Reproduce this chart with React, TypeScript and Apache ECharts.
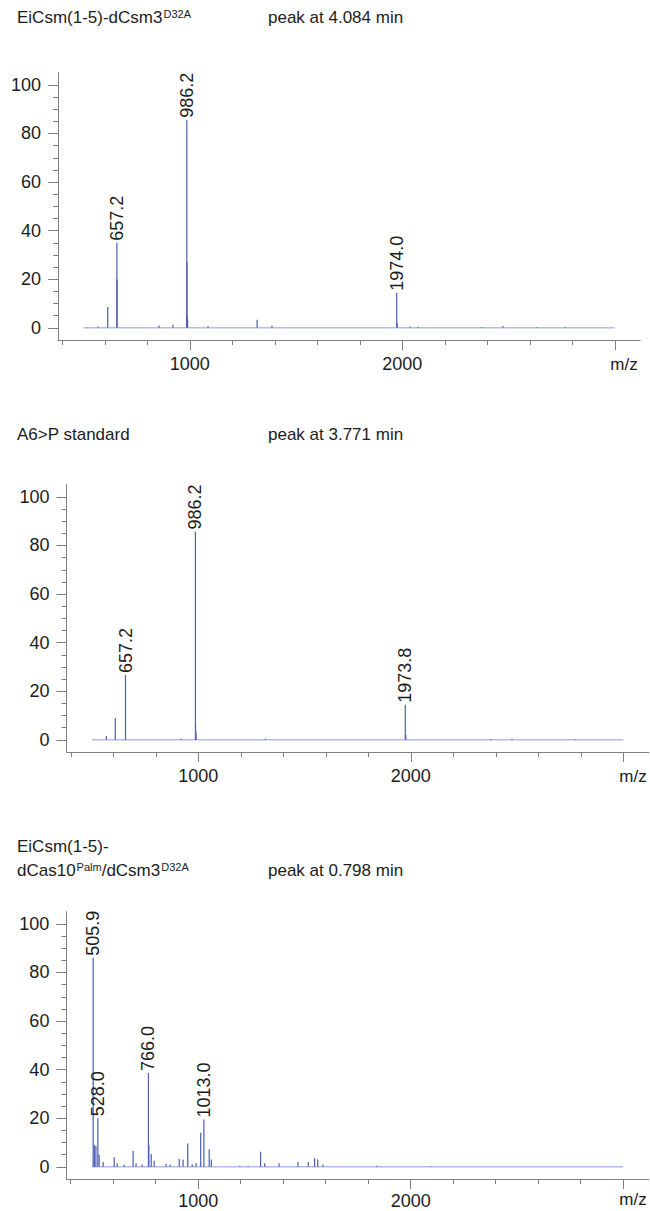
import React, { useEffect, useRef } from "react";
import * as echarts from "echarts";

// ---------- data ----------
const xMin = 380;
const xMax = 3120;
const yMin = -5;
const yMax = 105;

const xTickMajor = [1000, 2000, 3000];
const xTickMinor = [400, 600, 800, 1200, 1400, 1600, 1800, 2200, 2400, 2600, 2800];
const xTickLabels = [1000, 2000];
const yTickMajor = [0, 20, 40, 60, 80, 100];
const yTickMinor = [5, 10, 15, 25, 30, 35, 45, 50, 55, 65, 70, 75, 85, 90, 95];

const baselineRange = [500, 3000];

// panel 1: EiCsm(1-5)-dCsm3 D32A
const peaks1: [number, number][] = [
  [568, 0.6], [614, 8.6], [657.7, 20], [855, 1], [921, 1.3], [986.7, 27], [988, 5], [990, 3],
  [1086, 0.8], [1317, 3.3], [1387, 1], [1976, 2], [2036, 0.6], [2074, 0.5],
  [2375, 0.3], [2474, 0.8], [2634, 0.3], [2766, 0.3],
];
const labeled1: [number, number, string][] = [
  [657.2, 35, "657.2"], [986.2, 85.6, "986.2"], [1974.0, 14.4, "1974.0"],
];

// panel 2: A6>P standard
const peaks2: [number, number][] = [
  [567, 1.6], [609, 9], [919, 0.5], [987, 6], [989, 3], [1316, 0.5], [1976, 2],
  [2376, 0.3], [2476, 0.5], [2771, 0.3],
];
const labeled2: [number, number, string][] = [
  [657.2, 26.7, "657.2"], [986.2, 85.7, "986.2"], [1973.8, 14.4, "1973.8"],
];

// panel 3: EiCsm(1-5)-dCas10 Palm/dCsm3 D32A
const peaks3: [number, number][] = [
  [512, 9], [519, 8.5], [534, 5], [553, 2], [605, 4], [619, 1.5], [652, 1], [694, 6.5],
  [708, 1.5], [736, 1], [768, 9], [779, 5.3], [793, 2.5], [849, 1.2], [868, 1], [911, 3.2],
  [929, 3], [951, 9.6], [972, 1], [990, 1.5], [1012, 14], [1052, 7.2], [1062, 3], [1196, 0.5],
  [1235, 0.5], [1294, 6.2], [1313, 1.5], [1381, 1.5], [1470, 2], [1518, 2], [1548, 3.5],
  [1563, 3], [1587, 1], [1840, 0.5], [2094, 0.3],
];
const labeled3: [number, number, string][] = [
  [506, 86, "505.9"], [528, 20, "528.0"], [766, 38.6, "766.0"], [1027, 19.5, "1013.0"],
];

const titles = [
  { name: "EiCsm(1-5)-dCsm3", sup: "D32A", peak: "peak at 4.084 min" },
  { name: "A6>P standard", sup: "", peak: "peak at 3.771 min" },
  { name: "EiCsm(1-5)-", name2: "dCas10", sup2: "Palm", name3: "/dCsm3", sup3: "D32A", peak: "peak at 0.798 min" },
];

// ---------- styling / layout ----------
const FONT = 'Arial, "Liberation Sans", Helvetica, sans-serif';
const TEXT = "#1c1c1c";
const AXIS = "#808080";
const PEAK = "#4c5db2";
const BASE = "#8d9bd6";

const grids = [
  { left: 58, top: 72.7, height: 267.3 },
  { left: 66.6, top: 484.7, height: 267.3 },
  { left: 66.4, top: 911.7, height: 267.3 },
];
const plotWidth = (xMax - xMin) * 0.2125;

export default function App() {
  const ref = useRef<HTMLDivElement>(null);
  useEffect(() => {
    document.body.style.margin = "0";
    const chart = echarts.init(ref.current!, null, { renderer: "svg" });
    const panels = [
      { peaks: peaks1, labeled: labeled1 },
      { peaks: peaks2, labeled: labeled2 },
      { peaks: peaks3, labeled: labeled3 },
    ];
    const xAxis: any[] = [];
    const yAxis: any[] = [];
    const series: any[] = [];
    grids.forEach((g, gi) => {
      const lineStyle = { color: AXIS, width: 1 };
      xAxis.push({
        gridIndex: gi, type: "value", min: xMin, max: xMax, position: "bottom",
        axisLine: { show: true, onZero: false, lineStyle },
        axisTick: { show: true, customValues: xTickMajor, length: 10, lineStyle },
        axisLabel: {
          customValues: xTickLabels, fontSize: 18, color: TEXT, margin: gi === 2 ? 13 : 15, fontFamily: FONT,
          formatter: (v: number) => String(v),
        },
        splitLine: { show: false },
      });
      xAxis.push({
        gridIndex: gi, type: "value", min: xMin, max: xMax, position: "bottom",
        axisLine: { show: false, onZero: false },
        axisTick: { show: true, customValues: xTickMinor, length: 5, lineStyle },
        axisLabel: { show: false },
        splitLine: { show: false },
      });
      yAxis.push({
        gridIndex: gi, type: "value", min: yMin, max: yMax, position: "left",
        axisLine: { show: true, onZero: false, lineStyle },
        axisTick: { show: true, customValues: yTickMajor, length: 10, lineStyle },
        axisLabel: {
          customValues: yTickMajor, fontSize: 18, color: TEXT, margin: 17, fontFamily: FONT,
          formatter: (v: number) => String(v),
        },
        splitLine: { show: false },
      });
      yAxis.push({
        gridIndex: gi, type: "value", min: yMin, max: yMax, position: "left",
        axisLine: { show: false, onZero: false },
        axisTick: { show: true, customValues: yTickMinor, length: 5, lineStyle },
        axisLabel: { show: false },
        splitLine: { show: false },
      });
      const p = panels[gi];
      series.push({
        type: "line", xAxisIndex: gi * 2, yAxisIndex: gi * 2, silent: true,
        data: [[baselineRange[0], 0], [baselineRange[1], 0]],
        symbol: "none", lineStyle: { color: BASE, width: 1 }, z: 1,
      });
      const data: any[] = p.peaks.map((d) => ({ value: d }));
      p.labeled.forEach(([m, h, t]) => {
        data.push({
          value: [m, h],
          label: { show: true, formatter: t },
        });
      });
      series.push({
        type: "bar", xAxisIndex: gi * 2, yAxisIndex: gi * 2, silent: true,
        barWidth: 1.2, itemStyle: { color: PEAK }, z: 2,
        label: {
          show: false, position: "top", rotate: 90, align: "left", verticalAlign: "middle",
          distance: 2, fontSize: 18, color: TEXT, fontFamily: FONT,
        },
        data,
      });
    });

    const rich = {
      a: { fontSize: 17, fontFamily: FONT, fill: TEXT, color: TEXT, lineHeight: 20 },
      s: { fontSize: 11, fontFamily: FONT, fill: TEXT, color: TEXT, verticalAlign: "top", lineHeight: 20, padding: [1, 0, 0, 1] },
    };
    const txt = (x: number, y: number, text: string) => ({
      type: "text", x, y, silent: true,
      style: { text, rich, fill: TEXT, font: `17px ${FONT}`, verticalAlign: "middle", align: "left" },
    });
    const graphic: any[] = [
      txt(17, 17, `{a|${titles[0].name}}{s|${titles[0].sup}}`),
      txt(268, 17, `{a|${titles[0].peak}}`),
      txt(17, 434, `{a|${titles[1].name}}`),
      txt(268, 434, `{a|${titles[1].peak}}`),
      txt(17, 846, `{a|${titles[2].name}}`),
      txt(17, 870, `{a|${titles[2].name2}}{s|${titles[2].sup2}}{a|${titles[2].name3}}{s|${titles[2].sup3}}`),
      txt(268, 870, `{a|${titles[2].peak}}`),
    ];
    const mzPos = [[624, 364], [633, 776], [633, 1199]];
    mzPos.forEach(([x, y]) => {
      graphic.push({
        type: "text", x, y, silent: true,
        style: { text: "m/z", fill: TEXT, font: `17px ${FONT}`, align: "center", verticalAlign: "middle" },
      });
    });

    chart.setOption({
      animation: false,
      backgroundColor: "#ffffff",
      grid: grids.map((g) => ({ left: g.left, top: g.top, height: g.height, width: plotWidth, containLabel: false })),
      xAxis,
      yAxis,
      series,
      graphic,
    });
    return () => chart.dispose();
  }, []);
  return <div ref={ref} style={{ width: 650, height: 1211 }} />;
}
